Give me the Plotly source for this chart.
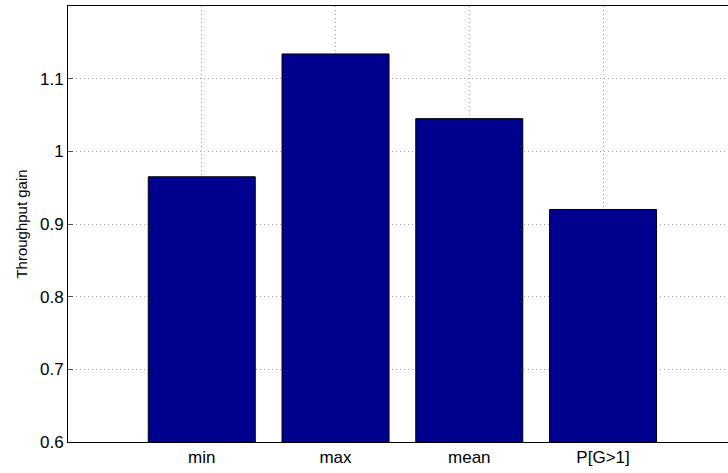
import plotly.graph_objects as go

categories = ["min", "max", "mean", "P[G>1]"]
gain = [0.965, 1.134, 1.045, 0.920]
y_ticks = [0.6, 0.7, 0.8, 0.9, 1.0, 1.1]
y_tick_labels = ["0.6", "0.7", "0.8", "0.9", "1", "1.1"]
x_pos = [1, 2, 3, 4]

fig = go.Figure()
fig.add_trace(go.Bar(
    x=x_pos, y=[g - 0.6 for g in gain], base=0.6, width=0.8,
    marker=dict(color="#00008F", line=dict(color="black", width=1)),
    hoverinfo="skip",
))

fig.update_layout(
    width=728, height=473,
    margin=dict(l=68, r=0, t=6, b=31),
    paper_bgcolor="white", plot_bgcolor="white",
    font=dict(family="Liberation Sans, Arial, sans-serif", size=18, color="black"),
    showlegend=False,
    bargap=0,
)
grid_dash = "1px,3px"
fig.update_xaxes(
    range=[0, (728 - 68.3) / 133.7], tickvals=x_pos, ticktext=categories,
    showline=True, linecolor="black", linewidth=1, mirror=True,
    ticks="inside", ticklen=5, tickcolor="#555",
    showgrid=True, gridcolor="#a8a8a8", griddash=grid_dash, gridwidth=1,
    zeroline=False, layer="below traces", automargin=False,
    tickfont=dict(size=17),
)
fig.update_yaxes(
    range=[0.6, 1.2], tickvals=y_ticks, ticktext=y_tick_labels,
    showline=True, linecolor="black", linewidth=1, mirror=False,
    ticks="inside", ticklen=5, tickcolor="#555",
    showgrid=True, gridcolor="#a8a8a8", griddash=grid_dash, gridwidth=1,
    zeroline=False, automargin=False,
    tickfont=dict(size=17),
    title=dict(text="Throughput gain", standoff=8, font=dict(size=15)),
)

fig.write_html(
    "out.html",
    config={"displayModeBar": False, "staticPlot": True},
    post_script="document.body.style.margin='0';document.body.style.overflow='hidden';",
)
